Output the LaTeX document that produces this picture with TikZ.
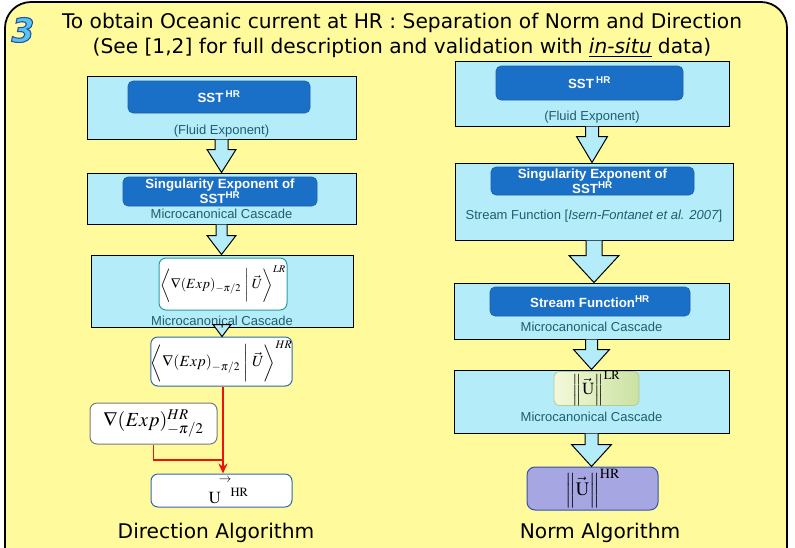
\documentclass[tikz,border=0pt]{standalone}
\usepackage{mathptmx}
\usepackage[no-math]{fontspec}
\setmainfont{Liberation Sans}
\newfontfamily\comicf{DejaVu Sans}
\usetikzlibrary{calc,arrows.meta}
\definecolor{bgyellow}{HTML}{FFFB9C}
\definecolor{lightbox}{HTML}{B4ECFA}
\definecolor{darkfill}{HTML}{1A6FC6}
\definecolor{darkedge}{HTML}{1D5FA8}
\definecolor{tealtext}{HTML}{1F5E6E}
\definecolor{tealedge}{HTML}{2A9CA6}
\definecolor{blueedge}{HTML}{2E68B0}
\definecolor{grayedge}{HTML}{7A7A7A}
\definecolor{purplefill}{HTML}{A6A6E2}
\definecolor{purpleedge}{HTML}{3552A8}
\definecolor{greenA}{HTML}{F4F8DA}
\definecolor{greenB}{HTML}{C9E2A2}
\definecolor{greenedge}{HTML}{B4CC92}
\definecolor{numfill}{HTML}{55C6F4}
\definecolor{redline}{HTML}{F01010}
% outlined text (fill + stroke) via PDF text render mode
\newcommand\outlinedigit[1]{\special{pdf:literal direct 2 Tr 1.1 w 0.18 0.31 0.63 RG}#1\special{pdf:literal direct 0 Tr}}
\tikzset{
  frame/.style={draw=black, line width=1.8pt, fill=bgyellow, rounded corners=26pt},
  outerbox/.style={draw=black, line width=1pt, fill=lightbox, inner sep=0pt},
  darkbox/.style={draw=darkedge, line width=0.6pt, fill=darkfill, rounded corners=5pt, inner sep=0pt, text=white, align=center, font=\fontsize{13.3}{15}\selectfont\bfseries},
  casc/.style={inner sep=0pt, text=tealtext, font=\fontsize{13}{15}\selectfont},
  mathbox/.style={draw=#1, line width=1pt, fill=white, rounded corners=7pt, inner sep=0pt},
  greenbox/.style={draw=greenedge, line width=0.8pt, left color=greenA, right color=greenB, rounded corners=6pt, inner sep=0pt},
  purplebox/.style={draw=purpleedge, line width=1pt, fill=purplefill, rounded corners=8pt, inner sep=0pt},
  barrow/.style={draw=black, line width=1pt, fill=lightbox, line join=miter},
  redconn/.style={draw=redline, line width=1.8pt},
  titlef/.style={inner sep=0pt, font=\comicf\fontsize{20.2}{22}\selectfont},
  algof/.style={inner sep=0pt, font=\comicf\fontsize{20.2}{22}\selectfont},
}
% block arrow from node #1 to node #2: shaft half width #3, head half width #4, head length #5
\newcommand\blockarr[5]{%
  \draw[barrow] let \p1=(#1.south), \p2=(#2.north) in
    (\x1-#3,\y1) -- (\x1-#3,\y2+#5) -- (\x1-#4,\y2+#5) -- (\x1,\y2)
    -- (\x1+#4,\y2+#5) -- (\x1+#3,\y2+#5) -- (\x1+#3,\y1);}
\begin{document}
\begin{tikzpicture}[x=1pt,y=-1pt]
\useasboundingbox (0,0) rectangle (795,547);
\fill[white] (0,0) rectangle (795,547);
\begin{scope}
  \clip (0,0) rectangle (795,547);
  \path[frame] (5,2) rectangle (787,590);
\end{scope}
% heading
\node[inner sep=0pt, text=numfill, font=\comicf\fontsize{33}{33}\selectfont\bfseries\itshape] (num) at (23,30) {\outlinedigit{3}};
\node[titlef] (t1) at (402,23) {To obtain Oceanic current at HR : Separation of Norm and Direction};
\node[titlef] (t2) at (402,48) {(See [1,2] for full description and validation with \underline{\textit{in-situ}} data)};

% ---------------- left column ----------------
\node[outerbox, minimum width=269pt, minimum height=63pt] (L1) at (221.5,107.5) {};
\node[darkbox, minimum width=182pt, minimum height=32pt] (L1i) at (219,97) {SST\,\textsuperscript{HR}};
\node[casc] (L1t) at (221.5,131) {(Fluid Exponent)};

\node[outerbox, minimum width=269pt, minimum height=51pt] (L2) at (221.5,198.5) {};
\node[darkbox, minimum width=194pt, minimum height=29pt] (L2i) at (220,191.5) {Singularity Exponent of\\SST\textsuperscript{HR}};
\node[casc] (L2t) at (221.5,214) {Microcanonical Cascade};

\node[outerbox, minimum width=262pt, minimum height=72pt] (L3) at (222,291) {};
\node[mathbox=tealedge, minimum width=128pt, minimum height=52pt] (L3i) at (223,284)
  {\fontsize{14}{14}\selectfont$\biggl\langle \nabla(Exp)_{-\pi/2} \biggm| \vec{U} \biggr\rangle^{LR}$};
\node[casc] (L3t) at (222,321) {Microcanonical Cascade};

\node[mathbox=blueedge, minimum width=137pt, minimum height=49pt] (L4) at (221.5,361.5)
  {\fontsize{15.5}{15.5}\selectfont$\biggl\langle \nabla(Exp)_{-\pi/2} \biggm| \vec{U} \biggr\rangle^{HR}$};

\node[mathbox=grayedge, minimum width=127pt, minimum height=41pt] (L5) at (153.5,423.5)
  {\fontsize{20}{20}\selectfont$\nabla(Exp)^{HR}_{-\pi/2}$};

\node[mathbox=blueedge, minimum width=141pt, minimum height=33pt] (L6) at (221.5,490.5)
  {\fontsize{17}{17}\selectfont\hspace*{14pt}$\mathrm{U}\mkern-2mu\raisebox{2.3ex}{$\scriptstyle\rightarrow$}\mkern-4mu{}^{\;\mathrm{HR}}$};

\node[algof] (dirt) at (216,533) {Direction Algorithm};

\blockarr{L1}{L2}{6.5pt}{14.5pt}{23pt}
\blockarr{L2}{L3}{5.5pt}{14.5pt}{19pt}
\blockarr{L3}{L4}{0pt}{9pt}{12pt}

\coordinate (J) at (223,460);
\draw[redconn] (L5.south) |- (J);
\draw[redconn, -{Stealth[length=10pt,width=9pt]}] ([xshift=1.5pt]L4.south) -- ([xshift=1.5pt]L6.north);

% ---------------- right column ----------------
\node[outerbox, minimum width=274pt, minimum height=65pt] (R1) at (592,93.5) {};
\node[darkbox, minimum width=187pt, minimum height=34pt] (R1i) at (589.5,83) {SST\,\textsuperscript{HR}};
\node[casc] (R1t) at (592,117) {(Fluid Exponent)};

\node[outerbox, minimum width=278pt, minimum height=77pt] (R2) at (594,201.5) {};
\node[darkbox, minimum width=203pt, minimum height=28pt] (R2i) at (592.5,181) {Singularity Exponent of\\SST\textsuperscript{HR}};
\node[casc] (R2t) at (594,216) {Stream Function [\textit{Isern-Fontanet et al. 2007}]};

\node[outerbox, minimum width=275pt, minimum height=56pt] (R3) at (591.5,311) {};
\node[darkbox, minimum width=200pt, minimum height=29pt] (R3i) at (590,301.5) {Stream Function\textsuperscript{HR}};
\node[casc] (R3t) at (591.5,327) {Microcanonical Cascade};

\node[outerbox, minimum width=275pt, minimum height=63pt] (R4) at (591.5,401.5) {};
\node[greenbox, minimum width=85pt, minimum height=33pt] (R4i) at (596.5,388.5)
  {\fontsize{17}{17}\selectfont$\left\|\vec{\mathrm{U}}\right\|^{\mathrm{LR}}$};
\node[casc] (R4t) at (591.5,417) {Microcanonical Cascade};

\node[purplebox, minimum width=131pt, minimum height=43pt] (R5) at (592.5,488.5)
  {\fontsize{19}{19}\selectfont$\left\|\vec{\mathrm{U}}\right\|^{\mathrm{HR}}$};

\node[algof] (normt) at (600,533) {Norm Algorithm};

\blockarr{R1}{R2}{6.5pt}{15.5pt}{26pt}
\blockarr{R2}{R3}{8pt}{25pt}{27pt}
\blockarr{R3}{R4}{6pt}{18pt}{20pt}
\blockarr{R4}{R5}{6.5pt}{20pt}{22pt}
\end{tikzpicture}
\end{document}
